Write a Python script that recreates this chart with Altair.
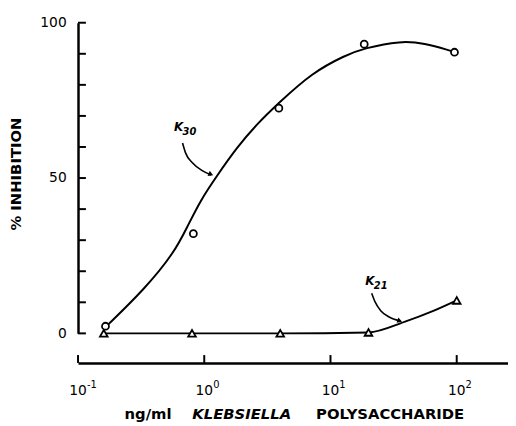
import altair as alt
import pandas as pd

# ---- data ----
conc = [0.16, 0.8, 4, 20, 100]
k30_conc = [0.165, 0.82, 3.9, 18.5, 96]
k30_inhib = [2.3, 32.1, 72.5, 93.1, 90.5]
k21_inhib = [0, 0, 0, 0.3, 10.6]

k30_curve_x = [0.165, 0.338, 0.579, 0.736, 0.936, 1.264, 1.81, 2.59, 3.85, 7.19, 13.1, 18.4, 36.3, 55.2, 89.1, 95]
k30_curve_y = [2.0, 14.3, 26.0, 34.4, 42.9, 50.8, 59.8, 67.2, 74.0, 84.0, 89.5, 91.8, 94.2, 93.4, 91.0, 90.6]
k21_curve_x = [0.16, 0.8, 4, 20, 38.5, 66, 100]
k21_curve_y = [0, 0, 0, 0.3, 3.7, 7.3, 10.6]

arrow30_x = [0.673, 0.711, 0.805, 0.964, 1.135]
arrow30_y = [61.3, 58.1, 54.9, 52.4, 51.0]
arrow21_x = [21.2, 22.5, 25.0, 29.4, 35.9]
arrow21_y = [12.9, 10.2, 7.3, 5.2, 4.0]
head_x = [1.114, 34.9]
head_y = [51.3, 4.1]
head_angle = [113, 109]

label_x = [0.626, 20.5]
label_y = [66.3, 16.7]
label_main = ["K", "K"]
label_sub = ["30", "21"]

ytick_vals = list(range(0, 101, 10))
ylabel_vals = [0, 50, 100]
xtick_vals = [0.1, 1, 10, 100]
xtick_base = ["10", "10", "10", "10"]
xtick_exp = ["-1", "0", "1", "2"]
title_plain = ["ng/ml", "POLYSACCHARIDE"]
title_italic = ["KLEBSIELLA"]

# ---- layout ----
W, H = 436, 315
XOFF = 30
FONT = "DejaVu Sans"

xscale = alt.Scale(type="log", domain=[0.1, 10 ** (W / 128 - 1)])
yscale = alt.Scale(domain=[0, 100])

xaxis = alt.Axis(values=xtick_vals, labels=False, ticks=False, tickSize=0,
                 domainWidth=2.5, domainColor="black", offset=XOFF,
                 grid=False, title=None)
yaxis = alt.Axis(values=ylabel_vals, ticks=False, tickSize=0, domainWidth=2.5,
                 domainColor="black", labelFont=FONT, labelFontSize=14, labelColor="black",
                 labelPadding=12, grid=False, title="% INHIBITION", titleFont=FONT,
                 titleFontSize=15, titleFontWeight="bold", titleColor="black",
                 titleX=-63, titleY=153, titleAngle=270, titleAlign="center",
                 titleBaseline="middle")


def X(f):
    return alt.X(f"{f}:Q", scale=xscale, axis=xaxis)


def Y(f):
    return alt.Y(f"{f}:Q", scale=yscale, axis=yaxis)


pts = pd.DataFrame({"conc": conc, "k30x": k30_conc, "k30": k30_inhib, "k21": k21_inhib})
c30 = pd.DataFrame({"x": k30_curve_x, "y": k30_curve_y})
c21 = pd.DataFrame({"x": k21_curve_x, "y": k21_curve_y})
a30 = pd.DataFrame({"x": arrow30_x, "y": arrow30_y})
a21 = pd.DataFrame({"x": arrow21_x, "y": arrow21_y})
heads = pd.DataFrame({"x": head_x, "y": head_y, "a": head_angle})
labs = pd.DataFrame({"x": label_x, "y": label_y, "m": label_main, "s": label_sub})
xl = pd.DataFrame({"v": xtick_vals, "b": xtick_base, "e": xtick_exp})

line30 = alt.Chart(c30).mark_line(color="black", strokeWidth=2, interpolate="basis").encode(x=X("x"), y=Y("y"))
line21 = alt.Chart(c21).mark_line(color="black", strokeWidth=2, interpolate="monotone").encode(x=X("x"), y=Y("y"))
circ = alt.Chart(pts).mark_point(shape="circle", size=50, filled=True, fill="white",
                                 stroke="black", strokeWidth=1.8, opacity=1).encode(x=X("k30x"), y=Y("k30"))
tri = alt.Chart(pts).mark_point(shape="triangle-up", size=60, filled=True, fill="white",
                                stroke="black", strokeWidth=1.8, opacity=1).encode(x=X("conc"), y=Y("k21"))
arr30 = alt.Chart(a30).mark_line(color="black", strokeWidth=1.6, interpolate="monotone").encode(x=X("x"), y=Y("y"))
arr21 = alt.Chart(a21).mark_line(color="black", strokeWidth=1.6, interpolate="monotone").encode(x=X("x"), y=Y("y"))
head = alt.Chart(heads).mark_point(shape="triangle", size=32, filled=True, color="black", opacity=1).encode(
    x=X("x"), y=Y("y"), angle=alt.Angle("a:Q", scale=None))
lab_main = alt.Chart(labs).mark_text(font=FONT, fontSize=12, fontStyle="italic", fontWeight="bold",
                                     color="black").encode(x=X("x"), y=Y("y"), text="m:N")
lab_sub = alt.Chart(labs).mark_text(font=FONT, fontSize=10, fontStyle="italic", fontWeight="bold",
                                    color="black", dx=11, dy=5).encode(x=X("x"), y=Y("y"), text="s:N")

yt = alt.Chart(pd.DataFrame({"v": ytick_vals})).mark_rule(color="black", strokeWidth=2).encode(
    y=Y("v"), x=alt.value(0), x2=alt.value(8))
xt = alt.Chart(pd.DataFrame({"v": xtick_vals})).mark_rule(color="black", strokeWidth=2).encode(
    x=X("v"), y=alt.value(H + XOFF - 8), y2=alt.value(H + XOFF))
xlb = alt.Chart(xl).mark_text(font=FONT, fontSize=14, color="black", align="center",
                              baseline="middle").encode(x=X("v"), y=alt.value(H + XOFF + 28), text="b:N")
xle = alt.Chart(xl).mark_text(font=FONT, fontSize=10, color="black", align="left",
                              baseline="middle", dx=9, dy=-6).encode(
    x=X("v"), y=alt.value(H + XOFF + 28), text="e:N")

t_plain = alt.Chart(pd.DataFrame({"t": title_plain, "px": [71, 316.5]})).mark_text(
    font=FONT, fontSize=15, fontWeight="bold", color="black", baseline="middle", align="center").encode(
    x=alt.X("px:Q", scale=None), y=alt.value(H + 82), text="t:N")
t_ital = alt.Chart(pd.DataFrame({"t": title_italic, "px": [166]})).mark_text(
    font=FONT, fontSize=15, fontWeight="bold", fontStyle="italic", color="black",
    baseline="middle", align="center").encode(
    x=alt.X("px:Q", scale=None), y=alt.value(H + 82), text="t:N")

chart = alt.layer(line30, line21, arr30, arr21, head, circ, tri, lab_main, lab_sub, yt, xt,
                  xlb, xle, t_plain, t_ital).properties(
    width=W, height=H,
    background="white",
    autosize=alt.AutoSizeParams(type="none"),
    padding={"left": 71, "top": 12, "right": 0, "bottom": 91},
).configure_view(stroke="transparent", strokeWidth=0).configure_axis(grid=False)

chart.save("out.html", embed_options={"renderer": "svg", "actions": False})
